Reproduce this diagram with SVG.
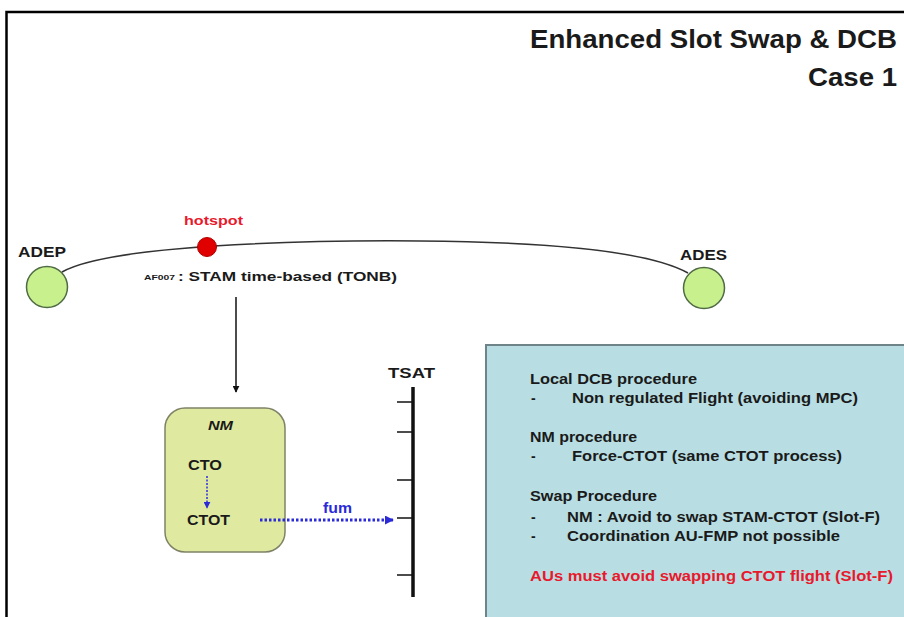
<svg xmlns="http://www.w3.org/2000/svg" width="904" height="617" viewBox="0 0 904 617">
<style>
  text { font-family: "Liberation Sans", Arial, sans-serif; font-weight: bold; fill: #1a1a1a; }
  .title { font-size: 25px; }
  .lbl { font-size: 15px; }
  .box { font-size: 14px; }
  .red { fill: #e8192c; }
  .blue { fill: #2a2ad8; }
  .airport { fill: #c8f08c; stroke: #4f6b45; stroke-width: 1.5; }
  .tick { stroke: #111; stroke-width: 1.5; }
</style>
<defs>
  <marker id="ah" viewBox="0 0 10 10" refX="9" refY="5" markerWidth="7" markerHeight="7" markerUnits="userSpaceOnUse" orient="auto">
    <path d="M0,0 L10,5 L0,10 z" fill="#111"/>
  </marker>
  <marker id="ahb" viewBox="0 0 10 10" refX="9" refY="5" markerWidth="9" markerHeight="9" markerUnits="userSpaceOnUse" orient="auto">
    <path d="M0,0 L10,5 L0,10 z" fill="#2a2ad8"/>
  </marker>
  <marker id="ahs" viewBox="0 0 10 10" refX="9" refY="5" markerWidth="7" markerHeight="7" markerUnits="userSpaceOnUse" orient="auto">
    <path d="M0,0 L10,5 L0,10 z" fill="#2a2ad8"/>
  </marker>
</defs>

<rect x="0" y="0" width="904" height="617" fill="#ffffff"/>
<rect id="frame" x="6.5" y="12" width="1000" height="700" fill="none" stroke="#000" stroke-width="2.5"/>

<g id="title">
  <text class="title" x="897" y="48" text-anchor="end" textLength="367" lengthAdjust="spacingAndGlyphs">Enhanced Slot Swap &amp; DCB</text>
  <text class="title" x="897" y="86" text-anchor="end" textLength="89" lengthAdjust="spacingAndGlyphs">Case 1</text>
</g>

<g id="adep">
  <circle class="airport" cx="47" cy="287" r="20.5"/>
  <text class="lbl" x="18" y="257" textLength="48" lengthAdjust="spacingAndGlyphs">ADEP</text>
</g>

<g id="ades">
  <circle class="airport" cx="704" cy="288" r="20.5"/>
  <text class="lbl" x="680" y="260" textLength="47" lengthAdjust="spacingAndGlyphs">ADES</text>
</g>

<g id="flight">
  <text x="144" y="280" font-size="8" textLength="31" lengthAdjust="spacingAndGlyphs">AF007</text>
  <text x="178" y="281" font-size="13" textLength="219" lengthAdjust="spacingAndGlyphs">: STAM time-based (TONB)</text>
</g>

<g id="nm">
  <rect x="165" y="408" width="120" height="144" rx="20" ry="20" fill="#dfeaa0" stroke="#7f8266" stroke-width="1.5"/>
  <text x="208" y="430" font-size="12" font-style="italic" textLength="25" lengthAdjust="spacingAndGlyphs">NM</text>
  <text x="188" y="470" font-size="14" textLength="34" lengthAdjust="spacingAndGlyphs">CTO</text>
  <text x="187" y="525" font-size="14" textLength="43" lengthAdjust="spacingAndGlyphs">CTOT</text>
</g>

<g id="fum-label">
  <text class="blue" x="323" y="513" font-size="14" font-weight="normal" textLength="29" lengthAdjust="spacingAndGlyphs">fum</text>
</g>

<g id="tsat">
  <text x="388" y="378" font-size="15" textLength="47" lengthAdjust="spacingAndGlyphs">TSAT</text>
  <line x1="413" y1="387" x2="413" y2="597" stroke="#111" stroke-width="3.5"/>
  <line class="tick" x1="397" y1="402" x2="413" y2="402"/>
  <line class="tick" x1="397" y1="432" x2="413" y2="432"/>
  <line class="tick" x1="397" y1="480" x2="413" y2="480"/>
  <line class="tick" x1="397" y1="518" x2="413" y2="518"/>
  <line class="tick" x1="397" y1="575" x2="413" y2="575"/>
</g>

<g id="procedures">
  <rect x="486" y="345" width="440" height="300" fill="#b8dee3" stroke="#6e8488" stroke-width="2"/>
  <text class="box" x="530" y="384" textLength="167" lengthAdjust="spacingAndGlyphs">Local DCB procedure</text>
  <text class="box" x="531" y="403">-</text>
  <text class="box" x="572" y="403" textLength="286" lengthAdjust="spacingAndGlyphs">Non regulated Flight (avoiding MPC)</text>
  <text class="box" x="530" y="442" textLength="107" lengthAdjust="spacingAndGlyphs">NM procedure</text>
  <text class="box" x="531" y="461">-</text>
  <text class="box" x="572" y="461" textLength="270" lengthAdjust="spacingAndGlyphs">Force-CTOT (same CTOT process)</text>
  <text class="box" x="530" y="501" textLength="127" lengthAdjust="spacingAndGlyphs">Swap Procedure</text>
  <text class="box" x="531" y="522">-</text>
  <text class="box" x="567" y="522" textLength="313" lengthAdjust="spacingAndGlyphs">NM : Avoid to swap STAM-CTOT (Slot-F)</text>
  <text class="box" x="531" y="541">-</text>
  <text class="box" x="567" y="541" textLength="273" lengthAdjust="spacingAndGlyphs">Coordination AU-FMP not possible</text>
  <text class="box red" x="530" y="581" textLength="363" lengthAdjust="spacingAndGlyphs">AUs must avoid swapping CTOT flight (Slot-F)</text>
</g>

<g id="connectors">
  <path id="route" d="M62,272 C110,245 300,240 420,241 C560,242 650,252 688,273" fill="none" stroke="#333" stroke-width="1.5"/>
  <line x1="236" y1="297" x2="236" y2="392" stroke="#111" stroke-width="1.5" marker-end="url(#ah)"/>
  <line x1="207" y1="476" x2="207" y2="508" stroke="#5a5ad0" stroke-width="2" stroke-dasharray="2,1.5" marker-end="url(#ahs)"/>
  <line x1="260" y1="520" x2="393" y2="520" stroke="#2a2ad8" stroke-width="3" stroke-dasharray="2.5,2" marker-end="url(#ahb)"/>
</g>

<g id="hotspot">
  <circle cx="207" cy="247" r="9.5" fill="#e00000" stroke="#b00000" stroke-width="1"/>
  <text class="red" x="184" y="225" font-size="13" textLength="59" lengthAdjust="spacingAndGlyphs">hotspot</text>
</g>
</svg>
